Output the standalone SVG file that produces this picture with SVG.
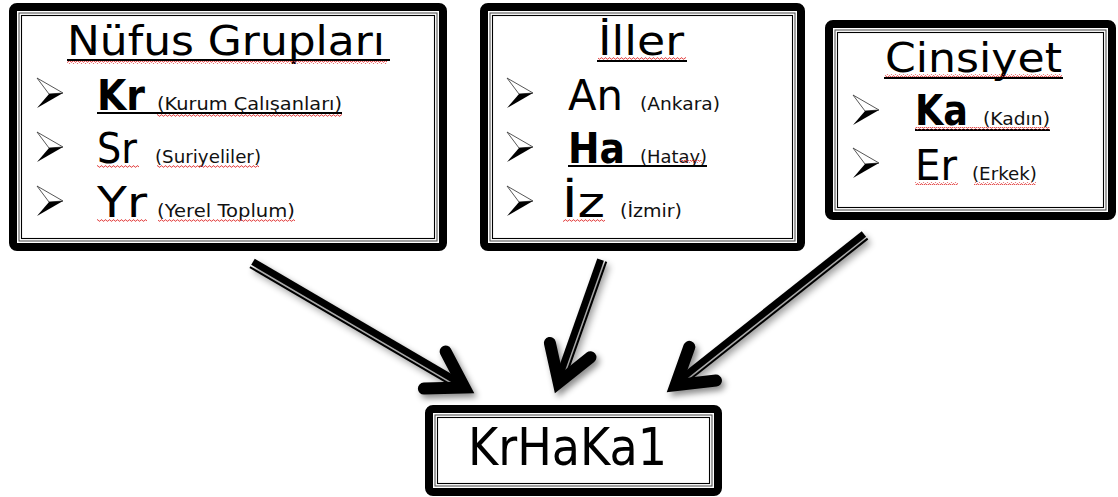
<svg xmlns="http://www.w3.org/2000/svg" xmlns:xlink="http://www.w3.org/1999/xlink" width="1118" height="497" viewBox="0 0 1118 497">
<style>
.outer{fill:#fff;stroke:#000;stroke-width:8}
.in1{fill:none;stroke:#555;stroke-width:1.1}
.in2{fill:none;stroke:#000;stroke-width:1.1}
.title{font-family:"DejaVu Sans","Liberation Sans",sans-serif;font-size:41px;fill:#000}
.code{font-family:"DejaVu Sans","Liberation Sans",sans-serif;font-size:43px;fill:#000}
.codeb{font-family:"DejaVu Sans","Liberation Sans",sans-serif;font-size:43px;font-weight:bold;fill:#000}
.small{font-family:"DejaVu Sans","Liberation Sans",sans-serif;font-size:18px;fill:#111}
.res{font-family:"DejaVu Sans","Liberation Sans",sans-serif;font-size:51px;fill:#000}
.ul{stroke:#000;stroke-width:2}
.shaft{stroke:#000;fill:none}
.head{fill:none;stroke:#000;stroke-width:12;stroke-linecap:round;stroke-linejoin:miter}
</style>
<defs>
<pattern id="wave" width="4" height="3" patternUnits="userSpaceOnUse">
<path d="M0 2.2 L1 0.8 L2 0.8 L3 2.2 L4 2.2" fill="none" stroke="#e23b3b" stroke-width="0.9"/>
</pattern>
<g id="bullet">
<polygon points="0,0 26,15 12,16" fill="#fff" stroke="#444" stroke-width="0.9" stroke-linejoin="round"/>
<polygon points="12,16 26,15 0,30" fill="#000"/>
</g>
<filter id="shadow" x="-20%" y="-20%" width="140%" height="140%">
<feDropShadow dx="3" dy="4" stdDeviation="3" flood-color="#000" flood-opacity="0.45"/>
</filter>
</defs>
<rect width="1118" height="497" fill="#fff"/>

<g id="connectors" filter="url(#shadow)">
<g id="arrow-nufus" transform="translate(474,393) rotate(30.35)">
<line class="shaft" x1="-257" y1="-1.5" x2="-14" y2="-1.5" stroke-width="7"/>
<line class="shaft" x1="-257" y1="4.5" x2="-16" y2="4.5" stroke-width="2"/>
<path class="head" d="M-45.5 -21.5 L-11 0 L-45.5 21.5"/>
</g>
<g id="arrow-iller" transform="translate(555,393) rotate(109.46)">
<line class="shaft" x1="-141" y1="1.5" x2="-14" y2="1.5" stroke-width="7"/>
<line class="shaft" x1="-141" y1="-4.5" x2="-16" y2="-4.5" stroke-width="2"/>
<path class="head" d="M-45.5 -21.5 L-11 0 L-45.5 21.5"/>
</g>
<g id="arrow-cinsiyet" transform="translate(667,392) rotate(141.59)">
<line class="shaft" x1="-252.5" y1="1.5" x2="-14" y2="1.5" stroke-width="7"/>
<line class="shaft" x1="-252.5" y1="-4.5" x2="-16" y2="-4.5" stroke-width="2"/>
<path class="head" d="M-45.5 -21.5 L-11 0 L-45.5 21.5"/>
</g>
</g>

<g id="node-nufus">
<rect class="outer" x="13" y="7" width="430" height="240" rx="4"/>
<rect class="in1" x="19" y="13" width="418" height="228"/>
<rect class="in2" x="21.5" y="15.5" width="413" height="223"/>
<text class="title" x="67" y="55" textLength="318" lengthAdjust="spacingAndGlyphs">Nüfus Grupları</text>
<line class="ul" x1="67" y1="60" x2="390" y2="60"/>
<rect x="67" y="61" width="320" height="3" fill="url(#wave)"/>
<use xlink:href="#bullet" x="37" y="78"/>
<use xlink:href="#bullet" x="37" y="132"/>
<use xlink:href="#bullet" x="37" y="186"/>
<text class="codeb" x="97" y="110" textLength="48" lengthAdjust="spacingAndGlyphs">Kr</text>
<text class="small" x="157" y="110" textLength="185" lengthAdjust="spacingAndGlyphs">(Kurum Çalışanları)</text>
<line class="ul" x1="97" y1="113" x2="342" y2="113"/>
<rect x="157" y="114" width="185" height="3" fill="url(#wave)"/>
<text class="code" x="97" y="163" textLength="40" lengthAdjust="spacingAndGlyphs">Sr</text>
<rect x="97" y="165" width="42" height="3" fill="url(#wave)"/>
<text class="small" x="155" y="163" textLength="106" lengthAdjust="spacingAndGlyphs">(Suriyeliler)</text>
<rect x="157" y="165" width="102" height="3" fill="url(#wave)"/>
<text class="code" x="97" y="217" textLength="50" lengthAdjust="spacingAndGlyphs">Yr</text>
<rect x="97" y="219" width="50" height="3" fill="url(#wave)"/>
<text class="small" x="157" y="217" textLength="138" lengthAdjust="spacingAndGlyphs">(Yerel Toplum)</text>
<rect x="158" y="219" width="137" height="3" fill="url(#wave)"/>
</g>

<g id="node-iller">
<rect class="outer" x="484" y="7" width="317" height="240" rx="4"/>
<rect class="in1" x="490" y="13" width="305" height="228"/>
<rect class="in2" x="492.5" y="15.5" width="300" height="223"/>
<text class="title" x="598" y="55" textLength="86" lengthAdjust="spacingAndGlyphs">İller</text>
<line class="ul" x1="597" y1="61" x2="687" y2="61"/>
<rect x="598" y="57" width="88" height="3" fill="url(#wave)"/>
<use xlink:href="#bullet" x="507" y="78"/>
<use xlink:href="#bullet" x="507" y="132"/>
<use xlink:href="#bullet" x="507" y="186"/>
<text class="code" x="568" y="110" textLength="55" lengthAdjust="spacingAndGlyphs">An</text>
<text class="small" x="640" y="110" textLength="80" lengthAdjust="spacingAndGlyphs">(Ankara)</text>
<text class="codeb" x="568" y="163" textLength="57" lengthAdjust="spacingAndGlyphs">Ha</text>
<text class="small" x="640" y="163" textLength="67" lengthAdjust="spacingAndGlyphs">(Hatay)</text>
<line class="ul" x1="568" y1="166" x2="707" y2="166"/>
<rect x="680" y="160" width="22" height="3" fill="url(#wave)"/>
<text class="code" x="562" y="217" textLength="43" lengthAdjust="spacingAndGlyphs">İz</text>
<rect x="563" y="219" width="42" height="3" fill="url(#wave)"/>
<text class="small" x="620" y="217" textLength="62" lengthAdjust="spacingAndGlyphs">(İzmir)</text>
</g>

<g id="node-cinsiyet">
<rect class="outer" x="829" y="24" width="283" height="192" rx="4"/>
<rect class="in1" x="835" y="30" width="271" height="180"/>
<rect class="in2" x="837.5" y="32.5" width="266" height="175"/>
<text class="title" x="885" y="72" textLength="177" lengthAdjust="spacingAndGlyphs">Cinsiyet</text>
<line class="ul" x1="884" y1="78" x2="1063" y2="78"/>
<rect x="885" y="74" width="177" height="3" fill="url(#wave)"/>
<use xlink:href="#bullet" x="853" y="95"/>
<use xlink:href="#bullet" x="853" y="148"/>
<text class="codeb" x="915" y="125" textLength="53" lengthAdjust="spacingAndGlyphs">Ka</text>
<text class="small" x="983" y="125" textLength="67" lengthAdjust="spacingAndGlyphs">(Kadın)</text>
<line class="ul" x1="915" y1="130" x2="1050" y2="130"/>
<rect x="915" y="127" width="135" height="3" fill="url(#wave)"/>
<text class="code" x="915" y="180" textLength="42" lengthAdjust="spacingAndGlyphs">Er</text>
<rect x="915" y="182" width="43" height="3" fill="url(#wave)"/>
<text class="small" x="972" y="180" textLength="65" lengthAdjust="spacingAndGlyphs">(Erkek)</text>
<rect x="974" y="182" width="62" height="3" fill="url(#wave)"/>
</g>

<g id="node-result">
<rect class="outer" x="429" y="409" width="289" height="83" rx="4"/>
<rect class="in1" x="435" y="415" width="277" height="71"/>
<rect class="in2" x="437.5" y="417.5" width="272" height="66"/>
<text class="res" x="468" y="465" textLength="199" lengthAdjust="spacingAndGlyphs">KrHaKa1</text>
</g>
</svg>
